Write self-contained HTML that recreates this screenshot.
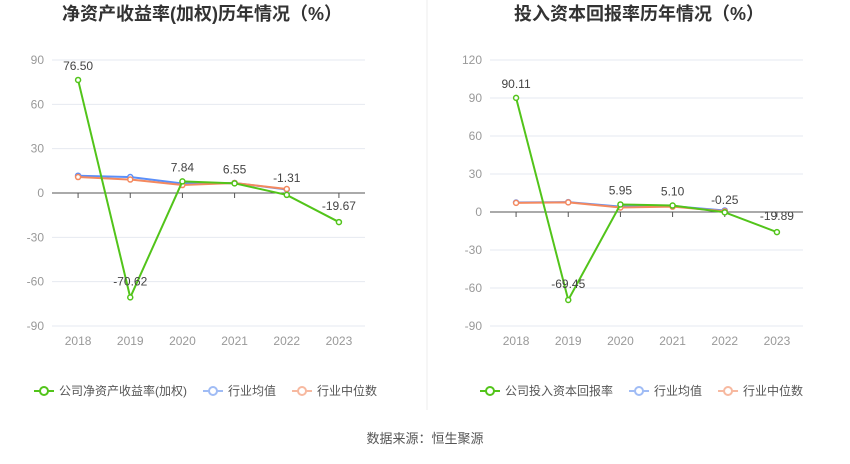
<!DOCTYPE html>
<html><head><meta charset="utf-8">
<style>
body{margin:0;background:#fff;width:850px;height:459px;overflow:hidden;font-family:"Liberation Sans","Noto Sans CJK SC",sans-serif;}
svg text{font-family:"Liberation Sans","Noto Sans CJK SC",sans-serif;}
</style></head>
<body>
<svg id="svg" width="850" height="459" xmlns="http://www.w3.org/2000/svg">
<line x1="427" y1="0" x2="427" y2="410" stroke="#eee"/>
<text x="202" y="20" font-size="18" font-weight="bold" fill="#333" text-anchor="middle">净资产收益率(加权)历年情况（%）</text>
<text x="639" y="20" font-size="18" font-weight="bold" fill="#333" text-anchor="middle">投入资本回报率历年情况（%）</text>
<text x="425" y="443" font-size="13" fill="#555" text-anchor="middle">数据来源：恒生聚源</text>
</svg>
<script>
const years=["2018","2019","2020","2021","2022","2023"];
const roeCompany=[76.50,-70.62,7.84,6.55,-1.31,-19.67];
const roeAvg=[11.7,10.8,6.4,6.8,2.4];
const roeMedian=[10.8,9.1,5.4,6.8,2.7];
const roeTicks=[90,60,30,0,-30,-60,-90];
const roicCompany=[90.11,-69.45,5.95,5.10,-0.25,-15.89];
const roicLabels=["90.11","-69.45","5.95","5.10","-0.25","-19.89"];
const roicAvg=[7.5,7.8,4.2,4.6,1.2];
const roicMedian=[7.2,7.6,3.6,4.2,0.6];
const roicTicks=[120,90,60,30,0,-30,-60,-90];
const roeLabels=["76.50","-70.62","7.84","6.55","-1.31","-19.67"];

const svg=document.getElementById('svg');
const NS="http://www.w3.org/2000/svg";
function mk(tag,attrs,name,text){const e=document.createElementNS(NS,tag);for(const k in attrs)e.setAttribute(k,attrs[k]);


if(text!==undefined)e.textContent=text;svg.appendChild(e);return e;}

function chart(cfg){
  const {x0,x1,yTop,yBot,max,min,ticks,prefix}=cfg;
  const ys=v=>yTop+(max-v)/(max-min)*(yBot-yTop);
  const step=(x1-x0)/years.length;
  const xs=i=>x0+step*(i+0.5);
  ticks.forEach(t=>{
    mk('line',{x1:x0,x2:x1,y1:ys(t),y2:ys(t),stroke:t===0?'#555':'#e6e9f0','stroke-width':1},prefix+'-gridline');
    mk('text',{x:x0-8,y:ys(t)+4,'font-size':12,fill:'#999','text-anchor':'end'},prefix+'-y-tick',String(t));
  });
  years.forEach((y,i)=>{
    mk('line',{x1:xs(i),x2:xs(i),y1:ys(0),y2:ys(0)+5,stroke:'#555'},prefix+'-x-tickmark');
    mk('text',{x:xs(i),y:yBot+19,'font-size':12,fill:'#999','text-anchor':'middle'},prefix+'-x-tick',y);
  });
  const series=[[cfg.avg,'#5b8ff9','avg'],[cfg.med,'#f4895f','median'],[cfg.comp,'#52c41a','company']];
  series.forEach(([d,c,n])=>{
    mk('polyline',{points:d.map((v,i)=>xs(i)+','+ys(v)).join(' '),fill:'none',stroke:c,'stroke-width':2},prefix+'-'+n+'-line');
    d.forEach((v,i)=>mk('circle',{cx:xs(i),cy:ys(v),r:2.5,fill:'#fff',stroke:c,'stroke-width':1.5},prefix+'-'+n+'-point'));
  });
  cfg.comp.forEach((v,i)=>{
    let ty=ys(v)-10;
    if(i===1) ty=ys(v)-12;
    if(i===4) ty=ys(Math.max(v,cfg.med[4]))-7;
    if(i===5) ty=ys(v)-12;
    mk('text',{x:xs(i),y:ty,'font-size':12,fill:'#444','text-anchor':'middle'},prefix+'-value-label',cfg.labels[i]);
  });
  const lx=cfg.legendX, ly=391;
  const items=[[cfg.legendName,'#52c41a'],['行业均值','#a0bcf5'],['行业中位数','#f7b9a0']];
  let cx=lx;
  items.forEach(([t,c],k)=>{
    mk('line',{x1:cx,x2:cx+20,y1:ly,y2:ly,stroke:c,'stroke-width':2},prefix+'-legend-line');
    mk('circle',{cx:cx+10,cy:ly,r:4,fill:'#fff',stroke:c,'stroke-width':2},prefix+'-legend-marker');
    const te=mk('text',{x:cx+25,y:ly+4,'font-size':12,fill:'#555'},prefix+'-legend-entry',t);
    cx+=25+te.getComputedTextLength()+16;
  });
}
chart({x0:52,x1:365,yTop:60,yBot:326,max:90,min:-90,ticks:roeTicks,comp:roeCompany,avg:roeAvg,med:roeMedian,labels:roeLabels,prefix:'roe',legendX:34,legendName:'公司净资产收益率(加权)'});
chart({x0:490,x1:803,yTop:60,yBot:326,max:120,min:-90,ticks:roicTicks,comp:roicCompany,avg:roicAvg,med:roicMedian,labels:roicLabels,prefix:'roic',legendX:480,legendName:'公司投入资本回报率'});
</script>
</body></html>
